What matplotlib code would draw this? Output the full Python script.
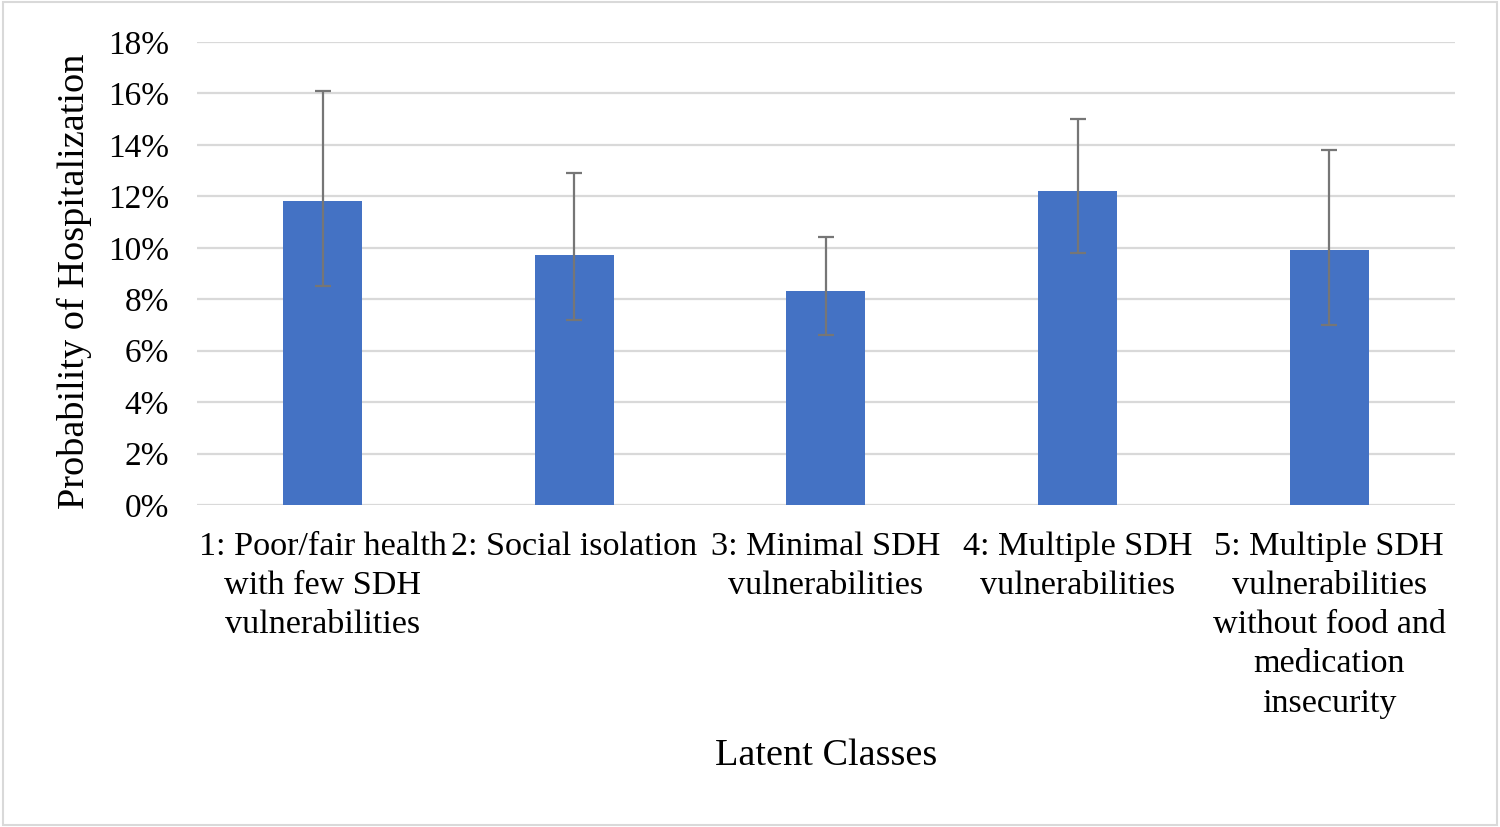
import numpy as np
import matplotlib
matplotlib.use("Agg")
import matplotlib.pyplot as plt
from matplotlib.patches import Rectangle

classes = ["1: Poor/fair health\nwith few SDH\nvulnerabilities",
           "2: Social isolation",
           "3: Minimal SDH\nvulnerabilities",
           "4: Multiple SDH\nvulnerabilities",
           "5: Multiple SDH\nvulnerabilities\nwithout food and\nmedication\ninsecurity"]
prob = [11.8, 9.7, 8.3, 12.2, 9.9]
ci_low = [8.5, 7.2, 6.6, 9.8, 7.0]
ci_high = [16.1, 12.9, 10.4, 15.0, 13.8]
yticks = np.arange(0, 19, 2)

plt.rcParams['font.family'] = ['Liberation Serif', 'DejaVu Serif']

fig = plt.figure(figsize=(15, 8.27), dpi=100)
ax = fig.add_axes([0.1313, 0.3894, 0.97 - 0.1313, 0.9492 - 0.3894])

x = np.arange(len(classes))
prob = np.array(prob)
err = np.vstack([prob - np.array(ci_low), np.array(ci_high) - prob])

ax.bar(x, prob, width=0.314, color='#4472C4', zorder=2)
ax.errorbar(x, prob, yerr=err, fmt='none', ecolor='#767676', elinewidth=1.6,
            capsize=6, capthick=1.6, zorder=3)

ax.set_xlim(-0.5, len(classes) - 0.5)
ax.set_ylim(0, 18)
ax.set_yticks(yticks)
ax.set_yticklabels(["%d%%" % v for v in yticks], fontsize=24)
ax.set_xticks(x)
ax.set_xticklabels(classes, fontsize=24.6, linespacing=1.37)
ax.tick_params(axis='both', length=0)
ax.tick_params(axis='y', pad=20)
ax.tick_params(axis='x', pad=19)

ax.grid(axis='y', color='#d9d9d9', linewidth=1.6, zorder=0)
ax.set_axisbelow(True)
for s in ax.spines.values():
    s.set_visible(False)

ax.set_xlabel("Latent Classes", fontsize=27.5, labelpad=14)
ax.set_ylabel("Probability of Hospitalization", fontsize=27.5)
ax.yaxis.set_label_coords(-0.0835, 0.483)

fig.patches.append(Rectangle((0.002, 0.003), 0.996, 0.994, transform=fig.transFigure,
                             fill=False, edgecolor='#d9d9d9', linewidth=1.5))

fig.savefig("out.png", dpi=100)
